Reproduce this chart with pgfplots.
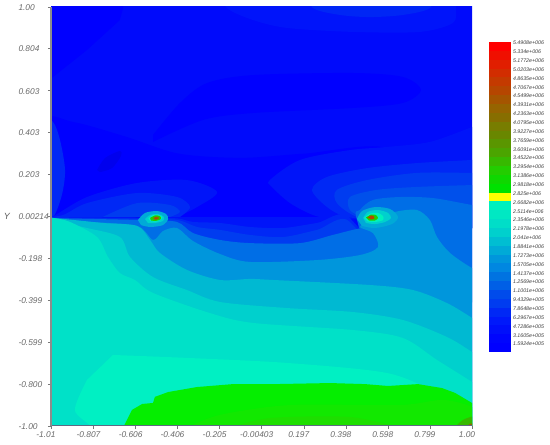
\documentclass[border=0pt]{standalone}
\usepackage{fontspec}
\setmainfont{Liberation Sans}
\usepackage{pgfplots}
\pgfplotsset{compat=1.18}
\definecolor{fb0}{RGB}{0,10,251}\definecolor{fdeep}{RGB}{0,0,255}\definecolor{fblob}{RGB}{0,0,238}
\definecolor{flt1}{RGB}{0,20,250}\definecolor{flt2}{RGB}{0,38,245}
\definecolor{fa}{RGB}{0,20,249}\definecolor{fb}{RGB}{0,40,245}\definecolor{fc}{RGB}{0,60,240}\definecolor{fd}{RGB}{0,80,235}\definecolor{fe}{RGB}{0,110,230}
\definecolor{ff}{RGB}{0,150,220}\definecolor{fg}{RGB}{0,185,210}\definecolor{fh}{RGB}{0,208,205}\definecolor{fi}{RGB}{0,225,200}\definecolor{fj}{RGB}{0,240,195}
\definecolor{fk}{RGB}{5,238,0}\definecolor{fkk}{RGB}{18,232,0}\definecolor{fkkk}{RGB}{30,222,0}
\definecolor{c0}{RGB}{255,0,0}\definecolor{c1}{RGB}{240,15,0}\definecolor{c2}{RGB}{225,30,0}\definecolor{c3}{RGB}{210,45,0}\definecolor{c4}{RGB}{196,58,0}\definecolor{c5}{RGB}{182,70,0}\definecolor{c6}{RGB}{165,85,0}\definecolor{c7}{RGB}{150,100,0}\definecolor{c8}{RGB}{135,110,0}\definecolor{c9}{RGB}{120,125,0}\definecolor{c10}{RGB}{105,135,0}\definecolor{c11}{RGB}{90,150,0}\definecolor{c12}{RGB}{75,165,0}\definecolor{c13}{RGB}{55,185,0}\definecolor{c14}{RGB}{35,205,0}\definecolor{c15}{RGB}{15,215,0}\definecolor{c16}{RGB}{0,225,0}\definecolor{c17}{RGB}{255,255,0}\definecolor{c18}{RGB}{0,240,190}\definecolor{c19}{RGB}{0,232,195}\definecolor{c20}{RGB}{0,222,200}\definecolor{c21}{RGB}{0,208,205}\definecolor{c22}{RGB}{0,190,210}\definecolor{c23}{RGB}{0,170,215}\definecolor{c24}{RGB}{0,150,220}\definecolor{c25}{RGB}{0,135,225}\definecolor{c26}{RGB}{0,115,225}\definecolor{c27}{RGB}{0,95,230}\definecolor{c28}{RGB}{0,75,235}\definecolor{c29}{RGB}{0,60,240}\definecolor{c30}{RGB}{0,40,245}\definecolor{c31}{RGB}{0,25,250}\definecolor{c32}{RGB}{0,15,250}\definecolor{c33}{RGB}{0,5,253}\definecolor{c34}{RGB}{0,0,255}
\newcommand{\poly}[2]{\addplot[fill=#1,draw=none,no markers] coordinates {#2} --cycle;}
\newcommand{\reg}[2]{\addplot[fill=#1,draw=none,no markers,smooth] coordinates {#2} --cycle;}
\newcommand{\cell}[3]{\addplot[fill=#1,draw=none,no markers] coordinates {(0,#2)(1,#2)(1,#3)(0,#3)} --cycle;}
\begin{document}
\begin{tikzpicture}
\useasboundingbox (0,0) rectangle (550bp,445bp);
\begin{axis}[at={(51bp,19bp)},anchor=south west,scale only axis,width=421bp,height=419bp,
 xmin=-1.01,xmax=1.00,ymin=-1,ymax=1,axis on top,
 axis x line=bottom,axis y line=left,
 x axis line style={-,draw={rgb,255:red,95;green,105;blue,130},line width=1bp},
 y axis line style={-,draw={rgb,255:red,140;green,140;blue,140},line width=1.6bp},
 tick align=outside,major tick length=3bp,
 tick style={draw={rgb,255:red,120;green,120;blue,120},line width=0.6bp},
 xtick={-1.01,-0.807,-0.606,-0.406,-0.205,-0.00403,0.197,0.398,0.598,0.799,1.00},
 xticklabels={-1.01,-0.807,-0.606,-0.406,-0.205,-0.00403,0.197,0.398,0.598,0.799,1.00},
 ytick={1.00,0.804,0.603,0.403,0.203,0.00214,-0.198,-0.399,-0.599,-0.800,-1.00},
 yticklabels={1.00,0.804,0.603,0.403,0.203,0.00214,-0.198,-0.399,-0.599,-0.800,-1.00},
 xticklabel style={font=\fontsize{8.4}{10}\selectfont\itshape,text={rgb,255:red,105;green,105;blue,105},anchor=north,xshift=-5bp,yshift=1bp},
 yticklabel style={font=\fontsize{8.4}{10}\selectfont\itshape,text={rgb,255:red,105;green,105;blue,105},anchor=west,xshift=-33bp,yshift=-1bp},
 ylabel={Y},ylabel style={at={(axis description cs:-0.105,0.5)},rotate=-90,anchor=center,font=\fontsize{9}{10}\selectfont\itshape,text={rgb,255:red,90;green,90;blue,90}},
]
\poly{fb0}{(-1.1,-1.1)(1.1,-1.1)(1.1,1.1)(-1.1,1.1)}
\poly{fdeep}{(-1.062,1.081)(-0.657,1.081)(-0.666,0.995)(-0.681,0.938)(-0.838,0.795)(-1.0,0.666)(-1.062,0.628)}
\reg{flt1}{(-0.203,1.081)(-0.170,0.995)(-0.046,0.938)(0.117,0.900)(0.432,0.881)(0.752,0.881)(0.909,0.924)(0.923,0.995)(0.923,1.081)}
\reg{flt2}{(0.203,1.081)(0.241,0.995)(0.370,0.962)(0.513,0.952)(0.670,0.962)(0.799,0.995)(0.823,1.081)}
\reg{fdeep}{(-0.523,0.356)(-0.284,0.461)(-0.046,0.494)(0.432,0.518)(0.670,0.542)(0.756,0.604)(0.670,0.666)(0.432,0.685)(-0.046,0.675)(-0.265,0.637)(-0.394,0.542)(-0.523,0.389)}
\reg{fdeep}{(-1.06,-0.002)(-1.06,0.45)(-0.9,0.45)(-0.65,0.38)(-0.4,0.3)(-0.1,0.28)(0.2,0.3)(0.6,0.32)(0.6,-0.002)}
\reg{fblob}{(-0.790,0.222)(-0.752,0.279)(-0.681,0.313)(-0.676,0.289)(-0.719,0.231)(-0.776,0.212)}
% upper right nest
\reg{fa}{(1.086,0.461)(1.0,0.427)(0.799,0.356)(0.594,0.332)(0.417,0.317)(0.179,0.270)(0.035,0.174)(0.045,0.141)(0.131,0.064)(0.241,0.007)(0.322,-0.007)(0.6,-0.02)(1.086,-0.064)}
\reg{fb}{(1.086,0.279)(1.0,0.270)(0.737,0.255)(0.499,0.231)(0.308,0.189)(0.236,0.127)(0.308,0.045)(0.403,-0.002)(0.6,-0.02)(1.086,-0.064)}
\reg{fc}{(1.086,0.208)(1.0,0.208)(0.737,0.208)(0.499,0.174)(0.355,0.127)(0.355,0.064)(0.451,-0.002)(0.6,-0.02)(1.086,-0.064)}
\reg{fd}{(1.086,0.150)(1.0,0.150)(0.737,0.141)(0.546,0.127)(0.417,0.093)(0.417,0.031)(0.480,-0.002)(0.6,-0.02)(1.086,-0.064)}
\reg{fe}{(1.086,0.045)(1.0,0.055)(0.814,0.088)(0.656,0.093)(0.527,0.079)(0.465,0.031)(0.451,-0.017)(0.6,-0.4)(1.086,-0.4)}
% upper left nest
\reg{fb}{(-1.063,0.484)(-1.0,0.451)(-0.967,0.365)(-0.943,0.222)(-0.958,0.103)(-1.0,-0.002)(-1.063,-0.002)}
\reg{fa}{(-1.063,-0.007)(-1.0,0.002)(-0.838,0.093)(-0.599,0.160)(-0.361,0.174)(-0.217,0.117)(-0.313,0.045)(-0.408,-0.002)}
\reg{fb}{(-1.063,-0.007)(-0.953,0.007)(-0.838,0.064)(-0.599,0.112)(-0.408,0.093)(-0.346,0.045)(-0.394,-0.002)}
\reg{fc}{(-0.762,-0.002)(-0.599,0.064)(-0.442,0.055)(-0.394,0.022)(-0.442,-0.002)}
% lower half, layer on layer
\poly{fa}{(-0.466,-0.002)(0.393,-0.002)(0.393,-0.4)(-0.466,-0.4)}
\reg{fb}{(-1.063,-0.007)(-0.8,-0.007)(-0.55,-0.007)(-0.408,-0.009)(-0.332,-0.026)(-0.203,-0.031)(-0.060,-0.050)(0.098,-0.055)(0.260,-0.031)(0.417,-0.007)(0.561,-0.398)(-1.063,-0.398)}
\reg{fc}{(-1.063,-0.007)(-0.8,-0.009)(-0.55,-0.012)(-0.404,-0.017)(-0.313,-0.050)(-0.203,-0.064)(-0.060,-0.088)(0.098,-0.098)(0.260,-0.064)(0.417,-0.026)(0.561,-0.398)(-1.063,-0.398)}
\reg{fe}{(-1.063,-0.007)(-0.8,-0.012)(-0.55,-0.018)(-0.408,-0.026)(-0.332,-0.079)(-0.203,-0.112)(-0.060,-0.127)(0.179,-0.127)(0.336,-0.088)(0.480,-0.055)(0.561,-0.074)(0.618,-0.398)(-1.063,-0.398)}
\reg{ff}{(-1.063,-0.012)(-0.824,-0.026)(-0.599,-0.045)(-0.523,-0.112)(-0.475,-0.069)(-0.408,-0.055)(-0.332,-0.117)(-0.203,-0.179)(-0.060,-0.217)(0.260,-0.208)(0.465,-0.184)(0.551,-0.146)(0.527,-0.079)(0.465,-0.050)(0.522,-0.017)(0.632,0.022)(0.737,0.031)(0.799,-0.017)(0.833,-0.098)(0.895,-0.174)(1.0,-0.246)(1.086,-0.279)(1.086,-1.067)(-1.063,-1.067)}
\reg{fg}{(-1.063,-0.007)(-1.0,-0.007)(-0.762,-0.031)(-0.599,-0.045)(-0.537,-0.112)(-0.490,-0.174)(-0.361,-0.255)(-0.203,-0.303)(-0.060,-0.298)(0.050,-0.303)(0.513,-0.327)(0.718,-0.351)(0.880,-0.413)(1.0,-0.484)(1.086,-0.542)(1.086,-1.067)(-1.063,-1.067)}
\reg{fh}{(-1.063,-0.007)(-0.838,-0.055)(-0.681,-0.098)(-0.633,-0.193)(-0.523,-0.289)(-0.361,-0.351)(-0.203,-0.408)(0.117,-0.437)(0.432,-0.456)(0.670,-0.494)(0.880,-0.575)(1.0,-0.647)(1.086,-0.709)(1.086,-1.067)(-1.063,-1.067)}
\reg{fi}{(-1.063,-0.002)(-1.0,-0.007)(-0.919,-0.026)(-0.790,-0.098)(-0.738,-0.193)(-0.681,-0.270)(-0.609,-0.303)(-0.523,-0.365)(-0.251,-0.461)(-0.046,-0.508)(0.432,-0.542)(0.670,-0.580)(0.833,-0.685)(1.0,-0.790)(1.086,-0.852)(1.086,-1.067)(-1.063,-1.067)}
\reg{fj}{(-0.714,-0.661)(-0.361,-0.675)(0.117,-0.699)(0.594,-0.747)(0.833,-0.842)(1.0,-0.923)(1.086,-0.971)(1.086,-1.067)(-0.824,-1.067)(-0.824,-1.0)(-0.896,-0.923)(-0.838,-0.780)}
\poly{fk}{(-0.666,-1.009)(-0.623,-0.923)(-0.575,-0.895)(-0.523,-0.890)(-0.514,-0.861)(-0.451,-0.838)(-0.313,-0.814)(-0.141,-0.800)(0.059,-0.800)(0.322,-0.795)(0.489,-0.800)(0.599,-0.809)(0.742,-0.800)(0.857,-0.819)(0.919,-0.842)(1.0,-0.890)(1.086,-0.947)(1.086,-1.067)(-0.666,-1.067)}
\reg{fkk}{(-0.361,-1.009)(-0.203,-0.947)(0.131,-0.900)(0.656,-0.900)(0.871,-0.876)(1.038,-0.933)(1.038,-1.067)(-0.361,-1.067)}
\reg{fkkk}{(-0.155,-1.009)(0.036,-0.962)(0.417,-0.957)(0.656,-1.009)}
\reg{c13}{(0.925,-1.0)(0.955,-0.972)(1.0,-0.955)(1.038,-0.955)(1.038,-1.02)(0.925,-1.02)}
\poly{c7}{(0.985,-1.02)(0.985,-0.992)(1.01,-0.985)(1.01,-1.02)}
% sources
\reg{c23}{(-0.595,-0.017)(-0.561,0.017)(-0.504,0.026)(-0.461,0.012)(-0.451,-0.012)(-0.475,-0.041)(-0.537,-0.050)(-0.580,-0.041)}
\reg{c21}{(-0.561,-0.012)(-0.537,0.007)(-0.499,0.012)(-0.471,-0.002)(-0.475,-0.021)(-0.514,-0.031)(-0.547,-0.031)}
\reg{c18}{(-0.545,-0.009)(-0.525,0.006)(-0.495,0.007)(-0.478,-0.004)(-0.500,-0.023)(-0.535,-0.023)}
\reg{c14}{(-0.537,-0.007)(-0.514,0.005)(-0.490,0.002)(-0.485,-0.012)(-0.509,-0.021)(-0.533,-0.019)}
\reg{c9}{(-0.523,-0.007)(-0.509,0)(-0.494,-0.002)(-0.494,-0.012)(-0.514,-0.017)}
\reg{c3}{(-0.516,-0.007)(-0.509,-0.005)(-0.499,-0.007)(-0.509,-0.012)}
\reg{c23}{(0.451,-0.012)(0.475,0.026)(0.537,0.045)(0.608,0.036)(0.647,-0.002)(0.618,-0.036)(0.537,-0.055)(0.475,-0.045)}
\reg{c21}{(0.480,-0.007)(0.503,0.022)(0.551,0.031)(0.599,0.017)(0.613,-0.007)(0.585,-0.026)(0.537,-0.036)(0.494,-0.031)}
\reg{c18}{(0.484,-0.007)(0.513,0.014)(0.551,0.017)(0.575,0.002)(0.575,-0.017)(0.541,-0.026)(0.503,-0.024)}
\reg{c14}{(0.494,-0.005)(0.518,0.009)(0.541,0.007)(0.551,-0.007)(0.537,-0.019)(0.508,-0.019)}
\reg{c5}{(0.501,-0.005)(0.518,0.005)(0.532,0)(0.534,-0.010)(0.518,-0.014)}
\end{axis}
\begin{axis}[at={(489bp,93bp)},anchor=south west,scale only axis,width=22bp,height=310bp,
 xmin=0,xmax=1,ymin=19430,ymax=5507800,
 axis line style={draw=none},xtick=\empty,
 ytick pos=right,major tick length=0pt,tick style={draw=none},scaled y ticks=false,
 ytick={5490800,5334000,5177200,5020300,4863500,4706700,4549900,4393100,4236300,4079500,3922700,3765900,3609100,3452200,3295400,3138600,2981800,2825000,2668200,2511400,2354600,2197800,2041000,1884100,1727300,1570500,1413700,1256900,1100100,943290,786480,629670,472860,316050,159240},
 yticklabels={5.4908e+006,5.334e+006,5.1772e+006,5.0203e+006,4.8635e+006,4.7067e+006,4.5499e+006,4.3931e+006,4.2363e+006,4.0795e+006,3.9227e+006,3.7659e+006,3.6091e+006,3.4522e+006,3.2954e+006,3.1386e+006,2.9818e+006,2.825e+006,2.6682e+006,2.5114e+006,2.3546e+006,2.1978e+006,2.041e+006,1.8841e+006,1.7273e+006,1.5705e+006,1.4137e+006,1.2569e+006,1.1001e+006,9.4329e+005,7.8648e+005,6.2967e+005,4.7286e+005,3.1605e+005,1.5924e+005},
 yticklabel style={font=\fontsize{5.3}{6}\selectfont\itshape,text={rgb,255:red,60;green,60;blue,60},anchor=west,xshift=-1.5bp},
]
\cell{c0}{5507800}{5351000}\cell{c1}{5351000}{5194200}\cell{c2}{5194200}{5037300}\cell{c3}{5037300}{4880500}\cell{c4}{4880500}{4723700}\cell{c5}{4723700}{4566900}\cell{c6}{4566900}{4410100}\cell{c7}{4410100}{4253300}\cell{c8}{4253300}{4096500}\cell{c9}{4096500}{3939700}\cell{c10}{3939700}{3782900}\cell{c11}{3782900}{3626100}\cell{c12}{3626100}{3469200}\cell{c13}{3469200}{3312400}\cell{c14}{3312400}{3155600}\cell{c15}{3155600}{2998800}\cell{c16}{2998800}{2842000}\cell{c17}{2842000}{2685200}\cell{c18}{2685200}{2528400}\cell{c19}{2528400}{2371600}\cell{c20}{2371600}{2214800}\cell{c21}{2214800}{2058000}\cell{c22}{2058000}{1901100}\cell{c23}{1901100}{1744300}\cell{c24}{1744300}{1587500}\cell{c25}{1587500}{1430700}\cell{c26}{1430700}{1273900}\cell{c27}{1273900}{1117100}\cell{c28}{1117100}{960290}\cell{c29}{960290}{803480}\cell{c30}{803480}{646670}\cell{c31}{646670}{489860}\cell{c32}{489860}{333050}\cell{c33}{333050}{176240}\cell{c34}{176240}{19430}
\end{axis}
\end{tikzpicture}
\end{document}
